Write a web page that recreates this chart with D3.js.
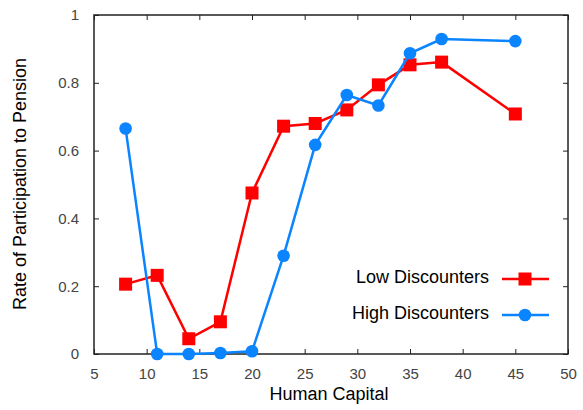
<!doctype html>
<html>
  <head>
    <script src="https://cdnjs.cloudflare.com/ajax/libs/d3/7.8.5/d3.min.js"></script>
    <style>
      body { margin: 0; background: #fff; }
      text { font-family: "Liberation Sans", Arial, sans-serif; }
    </style>
  </head>
  <body>
    <svg></svg>
    <script>
      var width = 583,
          height = 410;

      var capital = [8, 11, 14, 17, 20, 23, 26, 29, 32, 35, 38, 45];
      var lowDisc = [0.206, 0.232, 0.045, 0.095, 0.475, 0.672, 0.68, 0.72, 0.794, 0.853, 0.861, 0.708];
      var highDisc = [0.665, 0, 0, 0.003, 0.008, 0.29, 0.617, 0.764, 0.733, 0.887, 0.929, 0.923];
      var xTicks = [5, 10, 15, 20, 25, 30, 35, 40, 45, 50];
      var yTicks = [0, 0.2, 0.4, 0.6, 0.8, 1];
      var seriesNames = ["Low Discounters", "High Discounters"];

      var margin = {left: 94, right: 15, top: 15, bottom: 56};

      var svg = d3.select("svg").attr("width", width).attr("height", height);

      var x = d3.scaleLinear().domain([5, 50]).range([margin.left, width - margin.right]);
      var y = d3.scaleLinear().domain([0, 1]).range([height - margin.bottom, margin.top]);

      // frame and inward ticks
      var bottomAxis = d3.axisBottom(x).tickValues(xTicks).tickSize(-5).tickPadding(14).tickFormat(d3.format("d"));
      var topAxis = d3.axisTop(x).tickValues(xTicks).tickSize(-5).tickFormat("");
      var leftAxis = d3.axisLeft(y).tickValues(yTicks).tickSize(-5).tickPadding(15).tickFormat(d => d === 0 || d === 1 ? d : d3.format(".1f")(d));
      var rightAxis = d3.axisRight(y).tickValues(yTicks).tickSize(-5).tickFormat("");

      function styleAxis(g) {
        g.selectAll("line").attr("stroke", "#222");
        g.selectAll("text").attr("fill", "#444").attr("font-size", 15);
      }

      svg.append("g").attr("transform", "translate(0," + y(0) + ")").call(bottomAxis).call(styleAxis);
      svg.append("g").attr("transform", "translate(0," + y(1) + ")").call(topAxis).call(styleAxis);
      svg.append("g").attr("transform", "translate(" + x(5) + ",0)").call(leftAxis).call(styleAxis);
      svg.append("g").attr("transform", "translate(" + x(50) + ",0)").call(rightAxis).call(styleAxis);
      svg.selectAll(".domain").attr("d", null);
      svg.append("rect")
        .attr("x", x(5)).attr("y", y(1))
        .attr("width", x(50) - x(5)).attr("height", y(0) - y(1))
        .attr("fill", "none").attr("stroke", "#222").attr("stroke-width", 1.5);

      // axis labels
      svg.append("text")
        .attr("x", (x(5) + x(50)) / 2 - 2).attr("y", 400)
        .attr("text-anchor", "middle").attr("font-size", 18).attr("fill", "#000")
        .text("Human Capital");
      svg.append("text")
        .attr("transform", "translate(26," + ((y(0) + y(1)) / 2 - 0.5) + ") rotate(-90)")
        .attr("text-anchor", "middle").attr("font-size", 18).attr("fill", "#000")
        .text("Rate of Participation to Pension");

      var line = d3.line().x(d => x(d[0])).y(d => y(d[1]));
      var lowData = capital.map((c, i) => [c, lowDisc[i]]);
      var highData = capital.map((c, i) => [c, highDisc[i]]);

      //Low discounters
      svg.append("path").datum(lowData).attr("d", line)
        .attr("fill", "none").attr("stroke", "#ff0000").attr("stroke-width", 2.5);
      svg.selectAll(".sq").data(lowData).enter().append("rect")
        .attr("x", d => x(d[0]) - 6.5).attr("y", d => y(d[1]) - 6.5)
        .attr("width", 13).attr("height", 13).attr("fill", "#ff0000");

      //High discounters
      svg.append("path").datum(highData).attr("d", line)
        .attr("fill", "none").attr("stroke", "#0a84ff").attr("stroke-width", 2.5);
      svg.selectAll(".dot").data(highData).enter().append("circle")
        .attr("cx", d => x(d[0])).attr("cy", d => y(d[1])).attr("r", 6.3)
        .attr("fill", "#0a84ff");

      // legend
      var legendY = [279, 315];
      var colors = ["#ff0000", "#0a84ff"];
      seriesNames.forEach(function(name, i) {
        var g = svg.append("g");
        g.append("text").attr("x", 489).attr("y", legendY[i] + 4)
          .attr("text-anchor", "end").attr("font-size", 18).attr("fill", "#000").text(name);
        g.append("line").attr("x1", 502).attr("x2", 549).attr("y1", legendY[i]).attr("y2", legendY[i])
          .attr("stroke", colors[i]).attr("stroke-width", 2.5);
        if (i === 0) {
          g.append("rect").attr("x", 525 - 6.5).attr("y", legendY[i] - 6.5)
            .attr("width", 13).attr("height", 13).attr("fill", colors[i]);
        } else {
          g.append("circle").attr("cx", 525).attr("cy", legendY[i]).attr("r", 6.3).attr("fill", colors[i]);
        }
      });
    </script>
  </body>
</html>
